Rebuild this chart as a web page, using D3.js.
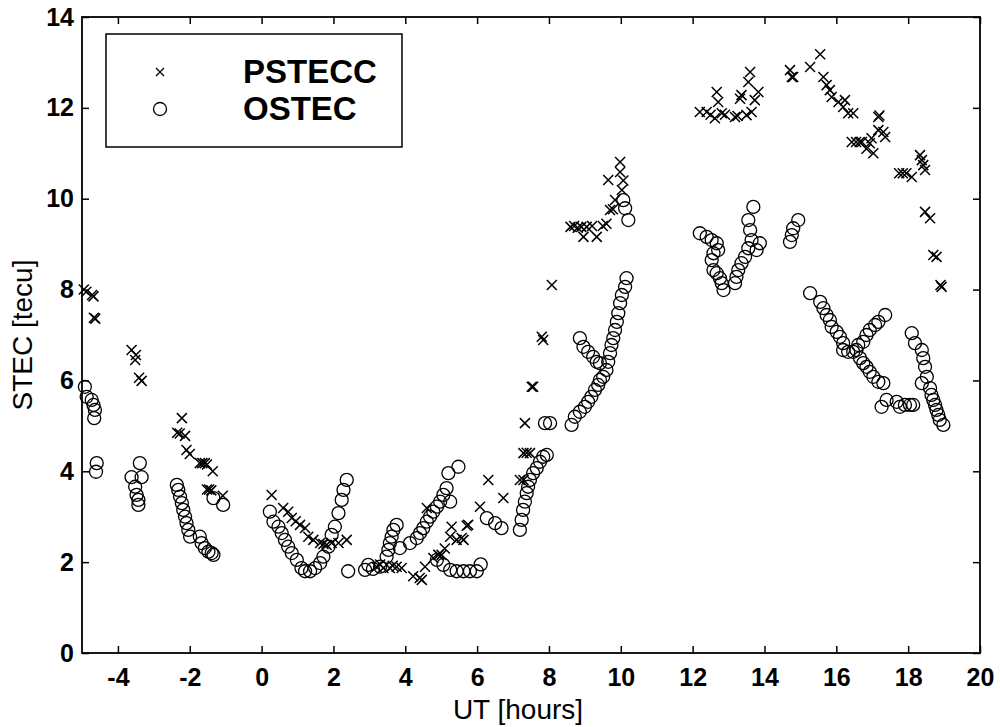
<!DOCTYPE html>
<html>
<head>
<meta charset="utf-8">
<script src="https://cdn.jsdelivr.net/npm/d3@7"></script>
<style>
  body { margin: 0; background: #fff; }
  svg { font-family: "Liberation Sans", Arial, sans-serif; }
</style>
</head>
<body>
<script>
// values: [UT hours, STEC tecu]
const pstecc = [
  [-4.95, 8.0], [-4.88, 7.95], [-4.72, 7.88], [-4.68, 7.85], [-4.67, 7.38], [-4.63, 7.36],
  [-3.62, 6.67], [-3.5, 6.56], [-3.52, 6.45], [-3.41, 6.06], [-3.34, 5.99],
  [-2.22, 5.17], [-2.35, 4.85], [-2.28, 4.83], [-2.13, 4.78], [-2.09, 4.47], [-2.0, 4.38],
  [-1.72, 4.18], [-1.65, 4.18], [-1.58, 4.18], [-1.52, 4.15], [-1.36, 4.0],
  [-1.52, 3.6], [-1.46, 3.6], [-1.4, 3.58], [-1.08, 3.46],
  [0.28, 3.48], [0.6, 3.19], [0.74, 3.11], [0.84, 2.97], [0.95, 2.9], [1.07, 2.82], [1.21, 2.75],
  [1.3, 2.56], [1.44, 2.49], [1.63, 2.42], [1.72, 2.4], [1.81, 2.38], [1.95, 2.42], [2.14, 2.42], [2.37, 2.49],
  [3.2, 1.9], [3.3, 1.95], [3.39, 1.87], [3.57, 1.87], [3.65, 1.92], [3.76, 1.9], [3.9, 1.87],
  [4.22, 1.69], [4.4, 1.65], [4.46, 1.61], [4.55, 1.9], [4.6, 3.19], [4.78, 2.09], [4.92, 2.16],
  [5.01, 2.16], [5.1, 2.3], [5.25, 2.56], [5.29, 2.78], [5.43, 2.49], [5.57, 2.53], [5.62, 2.49],
  [5.71, 2.8], [5.75, 2.82], [6.08, 3.22], [6.31, 3.81], [6.73, 3.41], [7.19, 3.81], [7.29, 3.81],
  [7.29, 4.4], [7.38, 4.41], [7.47, 4.4], [7.33, 5.06], [7.52, 5.86], [7.56, 5.86],
  [7.8, 6.96], [7.84, 6.89], [8.08, 8.1],
  [8.6, 9.38], [8.7, 9.4], [8.8, 9.36], [8.9, 9.38], [8.96, 9.16], [9.05, 9.38], [9.2, 9.4],
  [9.33, 9.16], [9.5, 9.4], [9.6, 9.45], [9.7, 9.75], [9.78, 9.77], [9.84, 9.97], [9.65, 10.41],
  [9.98, 10.59], [9.98, 10.81], [10.03, 10.19], [10.07, 10.4],
  [12.2, 11.91], [12.39, 11.91], [12.5, 11.85], [12.62, 11.77], [12.67, 12.35], [12.71, 12.13],
  [12.81, 11.88], [12.9, 11.85], [13.18, 11.8], [13.25, 11.82], [13.32, 12.2], [13.36, 12.28],
  [13.5, 11.84], [13.64, 11.91], [13.73, 12.17], [13.83, 12.35], [13.55, 12.57], [13.6, 12.79],
  [14.71, 12.83], [14.76, 12.68], [14.8, 12.68], [15.27, 12.9], [15.55, 13.18], [15.64, 12.68],
  [15.73, 12.5], [15.82, 12.39], [15.87, 12.24], [16.06, 12.13], [16.19, 12.02], [16.24, 12.17],
  [16.33, 11.88], [16.47, 11.88],
  [16.43, 11.25], [16.55, 11.25], [16.65, 11.25], [16.71, 11.25], [16.84, 11.1], [16.93, 11.22],
  [17.03, 11.0], [16.98, 11.33], [17.17, 11.8], [17.2, 11.83], [17.36, 11.36], [17.31, 11.47], [17.17, 11.51],
  [17.75, 10.56], [17.85, 10.56], [17.95, 10.56], [18.1, 10.48], [18.33, 10.96], [18.38, 10.85],
  [18.42, 10.74], [18.47, 10.63],
  [18.47, 9.71], [18.61, 9.57], [18.7, 8.76], [18.79, 8.72], [18.9, 8.1], [18.93, 8.06]
];

const ostec = [
  [-4.92, 5.86], [-4.87, 5.64], [-4.73, 5.57], [-4.68, 5.46], [-4.64, 5.35], [-4.66, 5.17],
  [-4.59, 4.18], [-4.61, 3.99],
  [-3.62, 3.87], [-3.52, 3.66], [-3.48, 3.48], [-3.43, 3.37], [-3.43, 3.26], [-3.39, 4.18], [-3.34, 3.87],
  [-2.36, 3.7], [-2.32, 3.59], [-2.27, 3.44], [-2.22, 3.3], [-2.18, 3.15], [-2.13, 3.0], [-2.09, 2.86],
  [-2.04, 2.71], [-1.99, 2.56], [-1.72, 2.56], [-1.67, 2.42], [-1.58, 2.31], [-1.48, 2.23],
  [-1.39, 2.2], [-1.34, 2.16], [-1.34, 3.41], [-1.07, 3.26],
  [0.23, 3.11], [0.33, 2.89], [0.47, 2.78], [0.56, 2.64], [0.65, 2.49], [0.74, 2.34], [0.84, 2.2],
  [0.98, 2.05], [1.11, 1.87], [1.21, 1.8], [1.35, 1.8], [1.49, 1.87], [1.63, 1.98], [1.72, 2.12],
  [1.86, 2.34], [1.95, 2.6], [2.04, 2.78], [2.14, 3.08], [2.23, 3.37], [2.28, 3.59], [2.37, 3.81], [2.41, 1.8],
  [2.88, 1.83], [2.97, 1.94], [3.1, 1.85], [3.3, 1.9], [3.48, 2.12], [3.53, 2.27], [3.57, 2.42],
  [3.62, 2.56], [3.67, 2.71], [3.76, 2.82], [3.85, 2.31],
  [4.13, 2.42], [4.32, 2.53], [4.41, 2.64], [4.5, 2.75], [4.6, 2.89], [4.69, 3.0], [4.78, 3.11],
  [4.88, 3.22], [4.97, 3.33], [5.06, 3.48], [5.15, 3.63], [5.2, 3.96], [5.48, 4.1], [5.25, 3.33],
  [4.88, 2.05], [5.06, 1.94], [5.25, 1.83], [5.43, 1.8], [5.62, 1.8], [5.8, 1.8], [5.99, 1.8], [6.1, 1.95],
  [6.27, 2.97], [6.5, 2.86], [6.68, 2.75], [7.19, 2.71], [7.24, 2.93], [7.28, 3.15], [7.33, 3.33],
  [7.38, 3.52], [7.42, 3.66], [7.47, 3.81], [7.56, 3.96], [7.66, 4.07], [7.75, 4.21], [7.84, 4.32], [7.94, 4.36],
  [7.89, 5.06], [8.03, 5.06],
  [8.63, 5.02], [8.72, 5.2], [8.86, 5.31], [9.0, 5.42], [9.09, 5.53], [9.18, 5.64], [9.28, 5.79],
  [9.37, 5.9], [9.42, 6.01], [9.51, 6.08], [9.6, 6.23], [9.65, 6.41], [9.7, 6.6], [9.74, 6.78],
  [9.79, 6.93], [9.84, 7.11], [9.89, 7.29], [9.93, 7.48], [9.98, 7.7], [10.03, 7.88], [10.12, 8.06],
  [10.16, 8.25], [8.86, 6.93], [8.96, 6.74], [9.09, 6.63], [9.23, 6.52], [9.33, 6.41], [9.42, 6.38],
  [10.07, 9.97], [10.12, 9.79], [10.21, 9.53],
  [12.2, 9.24], [12.39, 9.16], [12.53, 9.09], [12.67, 9.02], [12.71, 8.87], [12.58, 8.8], [12.53, 8.65],
  [12.58, 8.43], [12.67, 8.36], [12.76, 8.25], [12.81, 8.14], [12.86, 7.99], [13.18, 8.14], [13.22, 8.28],
  [13.27, 8.43], [13.36, 8.58], [13.46, 8.72], [13.55, 8.91], [13.64, 9.09], [13.6, 9.31], [13.55, 9.53],
  [13.69, 9.82], [13.87, 9.02], [13.78, 8.87],
  [14.94, 9.53], [14.8, 9.35], [14.76, 9.2], [14.71, 9.05],
  [15.27, 7.92], [15.55, 7.73], [15.64, 7.59], [15.73, 7.44], [15.82, 7.33], [15.87, 7.18], [16.01, 7.07],
  [16.1, 6.96], [16.19, 6.82], [16.19, 6.67], [16.33, 6.63], [16.47, 6.63], [16.56, 6.67], [16.66, 6.49],
  [16.75, 6.38], [16.84, 6.3], [16.93, 6.19], [17.03, 6.08], [17.17, 5.97], [17.31, 5.94],
  [16.61, 6.78], [16.75, 6.85], [16.84, 7.0], [16.93, 7.11], [17.08, 7.22], [17.17, 7.29], [17.36, 7.44],
  [17.26, 5.42], [17.4, 5.57], [17.68, 5.53], [17.77, 5.42], [17.91, 5.46], [18.05, 5.46], [18.14, 5.46],
  [18.1, 7.04], [18.19, 6.82], [18.38, 6.67], [18.42, 6.49], [18.47, 6.3], [18.52, 6.08], [18.38, 5.94],
  [18.61, 5.83], [18.65, 5.68], [18.7, 5.57], [18.75, 5.46], [18.79, 5.35], [18.84, 5.24], [18.88, 5.13], [18.98, 5.02]
];

const xTicks = [-4, -2, 0, 2, 4, 6, 8, 10, 12, 14, 16, 18, 20];
const yTicks = [0, 2, 4, 6, 8, 10, 12, 14];
const legendLabels = ['PSTECC', 'OSTEC'];

const W = 1000, H = 727;
const plot = { left: 82, right: 980, top: 17, bottom: 653 };

const x = d3.scaleLinear().domain([-5, 20]).range([plot.left, plot.right]);
const y = d3.scaleLinear().domain([0, 14]).range([plot.bottom, plot.top]);

const svg = d3.select('body').append('svg')
    .attr('width', W).attr('height', H);

const crossPath = s => `M${-s},${-s}L${s},${s}M${-s},${s}L${s},${-s}`;
const plain = d => String(d);   // hyphen-minus like the original, not U+2212

// axes (ticks point inward, mirrored on top and right)
const styleAxis = g => {
    g.select('.domain').remove();
    g.selectAll('.tick line').attr('stroke', '#000').attr('stroke-width', 1.5);
    g.selectAll('text').attr('fill', '#000')
        .style('font-size', '25px').style('font-weight', 'bold');
};

svg.append('g').attr('transform', `translate(0,${plot.bottom})`)
    .call(d3.axisBottom(x).tickValues(xTicks).tickFormat(plain)
        .tickSizeInner(-7).tickSizeOuter(0).tickPadding(15))
    .call(styleAxis);
svg.append('g').attr('transform', `translate(0,${plot.top})`)
    .call(d3.axisTop(x).tickValues(xTicks).tickSizeInner(-7).tickSizeOuter(0).tickFormat(''))
    .call(styleAxis);
svg.append('g').attr('transform', `translate(${plot.left},0)`)
    .call(d3.axisLeft(y).tickValues(yTicks).tickFormat(plain)
        .tickSizeInner(-7).tickSizeOuter(0).tickPadding(8))
    .call(styleAxis);
svg.append('g').attr('transform', `translate(${plot.right},0)`)
    .call(d3.axisRight(y).tickValues(yTicks).tickSizeInner(-7).tickSizeOuter(0).tickFormat(''))
    .call(styleAxis);

svg.append('rect')
    .attr('x', plot.left).attr('y', plot.top)
    .attr('width', plot.right - plot.left).attr('height', plot.bottom - plot.top)
    .attr('fill', 'none').attr('stroke', '#000').attr('stroke-width', 1.8);

// data
svg.append('g').selectAll('circle').data(ostec).join('circle')
    .attr('cx', d => x(d[0])).attr('cy', d => y(d[1])).attr('r', 6.5)
    .attr('fill', 'none').attr('stroke', '#000').attr('stroke-width', 1.3);

svg.append('g').selectAll('path').data(pstecc).join('path')
    .attr('transform', d => `translate(${x(d[0])},${y(d[1])})`)
    .attr('d', crossPath(5))
    .attr('fill', 'none').attr('stroke', '#000').attr('stroke-width', 1.5);

// legend
const lg = svg.append('g');
lg.append('rect').attr('x', 106).attr('y', 34).attr('width', 296).attr('height', 113)
    .attr('fill', '#fff').attr('stroke', '#000').attr('stroke-width', 1.5);
lg.append('path').attr('transform', 'translate(160,72)').attr('d', crossPath(4))
    .attr('stroke', '#000').attr('stroke-width', 1.3);
lg.append('circle').attr('cx', 160).attr('cy', 109).attr('r', 6.5)
    .attr('fill', 'none').attr('stroke', '#000').attr('stroke-width', 1.3);
lg.selectAll('text').data(legendLabels).join('text')
    .attr('x', 243).attr('y', (d, i) => 83 + i * 37)
    .style('font-size', '33px').style('font-weight', 'bold')
    .text(d => d);

// axis titles
svg.append('text')
    .attr('x', 518).attr('y', 719)
    .attr('text-anchor', 'middle')
    .style('font-size', '28px')
    .text('UT [hours]');
svg.append('text')
    .attr('transform', `translate(32,${(plot.top + plot.bottom) / 2}) rotate(-90)`)
    .attr('text-anchor', 'middle')
    .style('font-size', '28px')
    .text('STEC [tecu]');
</script>
</body>
</html>
